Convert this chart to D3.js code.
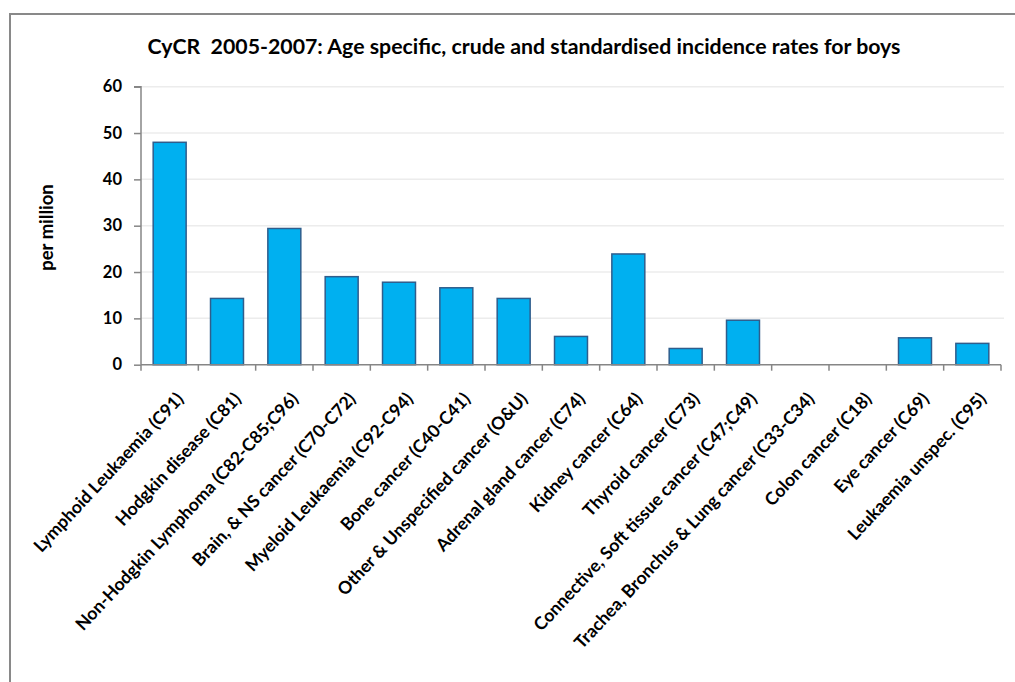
<!DOCTYPE html>
<html>
<head>
<meta charset="utf-8">
<script src="https://cdn.jsdelivr.net/npm/d3@7"></script>
<style>
  html, body { margin: 0; padding: 0; background: #fff; }
  svg { display: block; font-family: Lato, "Open Sans", sans-serif; }
</style>
</head>
<body>
<svg id="chart" width="1015" height="682"></svg>
<script>
const titleText = "CyCR  2005-2007: Age specific, crude and standardised incidence rates for boys";
const yAxisLabel = "per million";
const categories = [
  "Lymphoid Leukaemia (C91)",
  "Hodgkin disease (C81)",
  "Non-Hodgkin Lymphoma (C82-C85;C96)",
  "Brain, & NS cancer (C70-C72)",
  "Myeloid Leukaemia (C92-C94)",
  "Bone cancer (C40-C41)",
  "Other & Unspecified cancer (O&U)",
  "Adrenal gland cancer (C74)",
  "Kidney cancer (C64)",
  "Thyroid cancer (C73)",
  "Connective, Soft tissue cancer (C47;C49)",
  "Trachea, Bronchus & Lung cancer (C33-C34)",
  "Colon cancer (C18)",
  "Eye cancer (C69)",
  "Leukaemia unspec. (C95)"
];
const values = [48.0, 14.3, 29.4, 19.0, 17.8, 16.6, 14.3, 6.1, 23.9, 3.5, 9.6, 0, 0, 5.8, 4.6];
const yTicks = [0, 10, 20, 30, 40, 50, 60];

const svg = d3.select("#chart");
const W = 1015, H = 682;
const plot = { left: 141, right: 1001, top: 86.7, bottom: 364.7 };

svg.append("rect").attr("width", W).attr("height", H).attr("fill", "#fff");
// outer chart border (extends past right and bottom edges)
svg.append("rect")
  .attr("x", 10).attr("y", 14)
  .attr("width", W + 20).attr("height", H + 20)
  .attr("fill", "none").attr("stroke", "#898989").attr("stroke-width", 2);

const x = d3.scaleBand().domain(categories).range([plot.left, plot.right]).paddingInner(0.425).paddingOuter(0.2125);
const y = d3.scaleLinear().domain([0, 60]).range([plot.bottom, plot.top]);

// gridlines
svg.append("g").selectAll("line").data(yTicks.filter(d => d > 0)).join("line")
  .attr("x1", plot.left).attr("x2", plot.right + 3)
  .attr("y1", d => y(d)).attr("y2", d => y(d))
  .attr("stroke", "#ECECEC").attr("stroke-width", 1.5);

// title
svg.append("text")
  .attr("x", 524).attr("y", 54)
  .attr("text-anchor", "middle")
  .attr("font-size", 21.3).attr("font-weight", "bold").attr("fill", "#000")
  .attr("xml:space", "preserve")
  .style("white-space", "pre")
  .text(titleText);

// bars
svg.append("g").selectAll("rect").data(values.map((v, i) => ({ c: categories[i], v }))).join("rect")
  .filter(d => d.v > 0)
  .attr("x", d => x(d.c))
  .attr("width", x.bandwidth())
  .attr("y", d => y(d.v))
  .attr("height", d => y(0) - y(d.v))
  .attr("fill", "#00B0F0")
  .attr("stroke", "#2F5D8C")
  .attr("stroke-width", 1.5);

// y axis
const yAxis = d3.axisLeft(y).tickValues(yTicks).tickSize(7).tickPadding(12).tickFormat(d3.format("d"));
const gy = svg.append("g").attr("transform", `translate(${plot.left},0)`).call(yAxis);
gy.select(".domain").attr("stroke", "#868686").attr("stroke-width", 1.5).attr("d", `M-7,${plot.top}H0V${plot.bottom}`);
gy.selectAll(".tick line").attr("stroke", "#868686").attr("stroke-width", 1.5);
gy.selectAll(".tick text").attr("font-size", 16.5).attr("font-weight", "bold").attr("fill", "#000")
  .attr("font-family", "Lato, sans-serif");

// x axis
const boundaries = d3.range(categories.length + 1).map(i => plot.left + i * x.step());
const gx = svg.append("g");
gx.append("line").attr("x1", plot.left).attr("x2", plot.right).attr("y1", plot.bottom).attr("y2", plot.bottom)
  .attr("stroke", "#868686").attr("stroke-width", 1.5);
gx.selectAll("line.t").data(boundaries).join("line").attr("class", "t")
  .attr("x1", d => d).attr("x2", d => d).attr("y1", plot.bottom).attr("y2", plot.bottom + 6)
  .attr("stroke", "#868686").attr("stroke-width", 1.5);

gx.selectAll("text").data(categories).join("text")
  .attr("transform", d => `translate(${x(d) + x.bandwidth() / 2 + 15},${plot.bottom + 35}) rotate(-47)`)
  .attr("text-anchor", "end")
  .attr("font-size", 17.6).attr("font-weight", "bold").attr("fill", "#000")
  .text(d => d);

// y axis label
svg.append("text")
  .attr("transform", `translate(53,227.5) rotate(-90)`)
  .attr("text-anchor", "middle")
  .attr("font-size", 18.5).attr("font-weight", "bold").attr("fill", "#000")
  .text(yAxisLabel);
</script>
</body>
</html>
